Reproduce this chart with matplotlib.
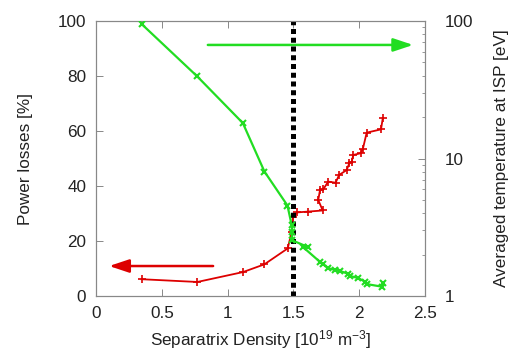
import matplotlib
matplotlib.use("Agg")
import matplotlib.pyplot as plt

plt.rcParams['font.family'] = ['Liberation Sans', 'DejaVu Sans']
plt.rcParams['mathtext.default'] = 'regular'

# power losses [%] vs separatrix density (red, left axis)
loss_density = [0.347, 0.770, 1.117, 1.279, 1.457, 1.487, 1.497, 1.530, 1.613,
                1.723, 1.689, 1.702, 1.727, 1.765, 1.821, 1.847, 1.905, 1.925,
                1.943, 1.955, 2.011, 2.027, 2.057, 2.166, 2.179]
loss_percent = [6.1, 5.1, 8.7, 11.5, 17.3, 23.3, 28.7, 30.4, 30.7,
                31.1, 34.9, 38.5, 38.8, 41.6, 41.2, 44.0, 45.8, 48.3,
                48.8, 51.3, 51.9, 53.3, 59.4, 60.6, 64.6]

# averaged temperature at ISP [eV] vs separatrix density (green, right log axis)
temp_density = [0.347, 0.770, 1.116, 1.280, 1.455, 1.487, 1.492, 1.487, 1.611,
                1.573, 1.702, 1.725, 1.765, 1.816, 1.854, 1.917, 1.930, 1.993,
                2.044, 2.059, 2.171, 2.179]
temp_ev = [95, 39.5, 18.1, 8.04, 4.55, 3.28, 2.92, 2.55, 2.27,
           2.27, 1.77, 1.71, 1.59, 1.55, 1.52, 1.45, 1.40, 1.35,
           1.27, 1.22, 1.17, 1.24]

detach_density = 1.5

fig = plt.figure(figsize=(5.15, 3.52), dpi=100)
ax = fig.add_axes([0.1864, 0.1591, 0.6388, 0.7812])
ax2 = ax.twinx()

ax.plot(loss_density, loss_percent, color='#dd0000', lw=1.3, marker='+',
        ms=6, mew=1.2, zorder=3)
ax2.plot(temp_density, temp_ev, color='#22dd22', lw=1.6, marker='x',
         ms=5, mew=1.5, zorder=3)

ax.axvline(detach_density, color='black', lw=3.6, linestyle=(0, (1.0, 0.75)),
           dash_capstyle='butt', zorder=4)

# arrows pointing to the matching axis
head = '-|>,head_length=0.6,head_width=0.2'
ax.annotate('', xy=(2.41, 91.3), xytext=(0.85, 91.3),
            arrowprops=dict(arrowstyle=head, color='#22dd22', lw=1.8,
                            mutation_scale=20, shrinkA=0, shrinkB=0))
ax.annotate('', xy=(0.10, 10.9), xytext=(0.89, 10.9),
            arrowprops=dict(arrowstyle=head, color='#dd0000', lw=1.8,
                            mutation_scale=20, shrinkA=0, shrinkB=0))

ax.set_xlim(0, 2.5)
ax.set_ylim(0, 100)
ax2.set_yscale('log')
ax2.set_ylim(1, 100)

ax.set_xticks([0, 0.5, 1, 1.5, 2, 2.5])
ax.set_xticklabels(['0', '0.5', '1', '1.5', '2', '2.5'])
ax.set_yticks([0, 20, 40, 60, 80, 100])
ax2.set_yticks([1, 10, 100])
ax2.set_yticklabels(['1', '10', '100'])

for a in (ax, ax2):
    for s in a.spines.values():
        s.set_color('#888888')
        s.set_linewidth(0.8)

fs = 12.3
ax.tick_params(direction='in', length=5, width=0.7, color='#888888',
               labelsize=fs, labelcolor='#222222', top=True, right=False, pad=7)
ax2.tick_params(which='major', direction='in', length=5, width=0.7,
                color='#888888', labelsize=fs, labelcolor='#222222', pad=14)
ax2.tick_params(which='minor', direction='in', length=2.5, width=0.6,
                color='#888888')

ax.set_xlabel('Separatrix Density [10$^{19}$ m$^{-3}$]',
              fontsize=fs, color='#222222', labelpad=5)
ax.set_ylabel('Power losses [%]', fontsize=fs, color='#222222', labelpad=18)
ax2.set_ylabel('Averaged temperature at ISP [eV]', fontsize=fs,
               color='#222222', labelpad=15)

fig.savefig('out.png', dpi=100)
